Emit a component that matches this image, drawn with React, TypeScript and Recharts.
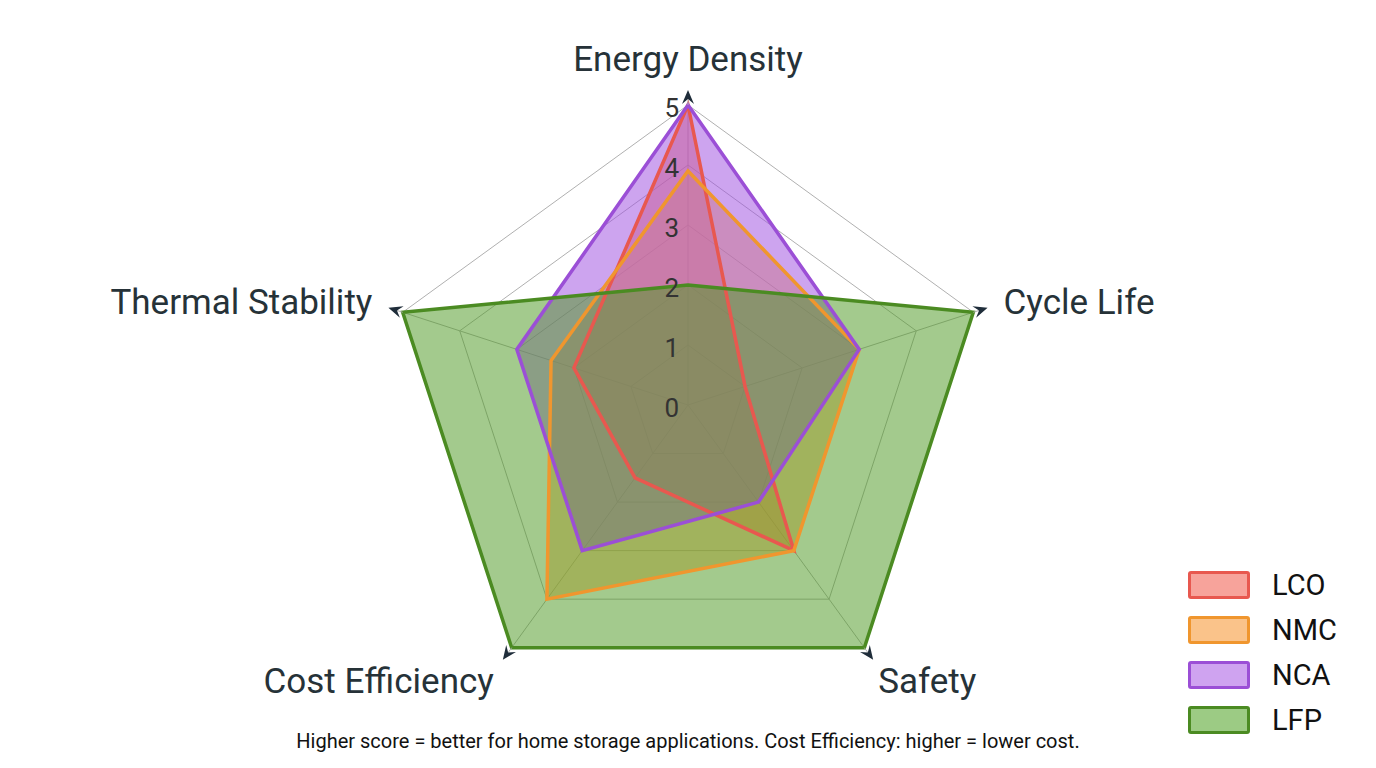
import {
  RadarChart,
  Radar,
  PolarGrid,
  PolarAngleAxis,
  PolarRadiusAxis,
  Legend,
} from "recharts";

const axes = [
  "Energy Density",
  "Cycle Life",
  "Safety",
  "Cost Efficiency",
  "Thermal Stability",
];
const lco = [5, 1, 3, 1.5, 2];
const nmc = [3.9, 3, 3, 4, 2.4];
const nca = [5, 3, 2, 3, 3];
const lfp = [2, 5, 5, 5, 5];
const radiusTicks = [0, 1, 2, 3, 4, 5];

const seriesList = [
  { key: "LCO", stroke: "#e8584f", fill: "#f46a50", swatch: "#f7a39b" },
  { key: "NMC", stroke: "#f0962e", fill: "#f7a440", swatch: "#fac38a" },
  { key: "NCA", stroke: "#9b4fd6", fill: "#a050e0", swatch: "#cfa3f0" },
  { key: "LFP", stroke: "#4b8b22", fill: "#4e9a25", swatch: "#9ccb84" },
];

const data = axes.map((axis, i) => ({
  axis,
  LCO: lco[i],
  NMC: nmc[i],
  NCA: nca[i],
  LFP: lfp[i],
}));

const CX = 688;
const CY = 405;
const R = 300;
const FONT = "Roboto, 'Noto Sans', sans-serif";

const AngleTick = (props: any) => {
  const { x, y, payload } = props;
  const dx = x - CX;
  const dy = y - CY;
  const len = Math.sqrt(dx * dx + dy * dy) || 1;
  const ux = dx / len;
  const uy = dy / len;
  const tipX = x + ux * 3;
  const tipY = y + uy * 3;
  const bx = x - ux * 11;
  const by = y - uy * 11;
  const px = -uy * 6;
  const py = ux * 6;
  const arrow = `${tipX},${tipY} ${bx + px},${by + py} ${x - ux * 6},${y - uy * 6} ${bx - px},${by - py}`;

  let lx = tipX;
  let ly = tipY;
  let anchor: "start" | "middle" | "end" = "middle";
  if (Math.abs(ux) < 0.1) {
    ly = tipY - 31;
  } else if (uy > 0.3) {
    ly = tipY + 22;
    if (ux > 0) {
      lx = tipX + 5;
      anchor = "start";
    } else {
      lx = tipX - 9;
      anchor = "end";
    }
  } else if (ux > 0) {
    lx = tipX + 16;
    ly = tipY - 5;
    anchor = "start";
  } else {
    lx = tipX - 16;
    ly = tipY - 5;
    anchor = "end";
  }

  return (
    <g>
      <polygon points={arrow} fill="#1f2d3a" />
      <text
        x={lx}
        y={ly}
        textAnchor={anchor}
        dominantBaseline="central"
        fontSize={35}
        fill="#263238"
        fontFamily={FONT}
      >
        {payload.value}
      </text>
    </g>
  );
};

const RadiusTick = (props: any) => {
  const { x, y, payload } = props;
  return (
    <text
      x={x - 9}
      y={y + 3}
      textAnchor="end"
      dominantBaseline="central"
      fontSize={26}
      fill="#333"
      fontFamily={FONT}
    >
      {payload.value}
    </text>
  );
};

const LegendBox = () => (
  <div style={{ fontFamily: FONT }}>
    {seriesList.map((s) => (
      <div
        key={s.key}
        style={{ display: "flex", alignItems: "center", height: 45 }}
      >
        <div
          style={{
            width: 56,
            height: 22,
            border: `3px solid ${s.stroke}`,
            background: s.swatch,
            borderRadius: 3,
          }}
        />
        <span style={{ marginLeft: 22, fontSize: 29, color: "#111" }}>
          {s.key}
        </span>
      </div>
    ))}
  </div>
);

export default function App() {
  return (
    <div
      style={{
        position: "absolute",
        left: 0,
        top: 0,
        width: 1376,
        height: 768,
        background: "#fff",
      }}
    >
      <RadarChart
        width={1376}
        height={768}
        data={data}
        cx={CX}
        cy={CY}
        outerRadius={R}
        margin={{ top: 0, right: 0, bottom: 0, left: 0 }}
      >
        <PolarGrid gridType="polygon" stroke="#b0b0b0" strokeWidth={1} />
        <PolarAngleAxis
          dataKey="axis"
          axisLine={false}
          tickLine={{ stroke: "#b0b0b0" }}
          tickSize={12}
          tick={<AngleTick />}
        />
        <PolarRadiusAxis
          angle={90}
          domain={[0, 5]}
          ticks={radiusTicks as any}
          tickCount={6}
          axisLine={false}
          tick={<RadiusTick />}
        />
        {seriesList.map((s) => (
          <Radar
            key={`${s.key}-fill`}
            name={s.key}
            dataKey={s.key}
            stroke="none"
            fill={s.fill}
            fillOpacity={0.52}
            dot={false}
            legendType="none"
            isAnimationActive={false}
          />
        ))}
        {seriesList.map((s) => (
          <Radar
            key={`${s.key}-line`}
            name={s.key}
            dataKey={s.key}
            stroke={s.stroke}
            strokeWidth={3.5}
            fill="none"
            fillOpacity={0}
            dot={false}
            isAnimationActive={false}
          />
        ))}
        <Legend
          content={<LegendBox />}
          wrapperStyle={{ position: "absolute", left: 1188, top: 562, width: 180 }}
        />
      </RadarChart>
      <div
        style={{
          position: "absolute",
          left: 0,
          width: 1376,
          top: 729,
          textAlign: "center",
          fontFamily: FONT,
          fontSize: 20,
          color: "#111",
        }}
      >
        Higher score = better for home storage applications. Cost Efficiency:
        higher = lower cost.
      </div>
    </div>
  );
}
